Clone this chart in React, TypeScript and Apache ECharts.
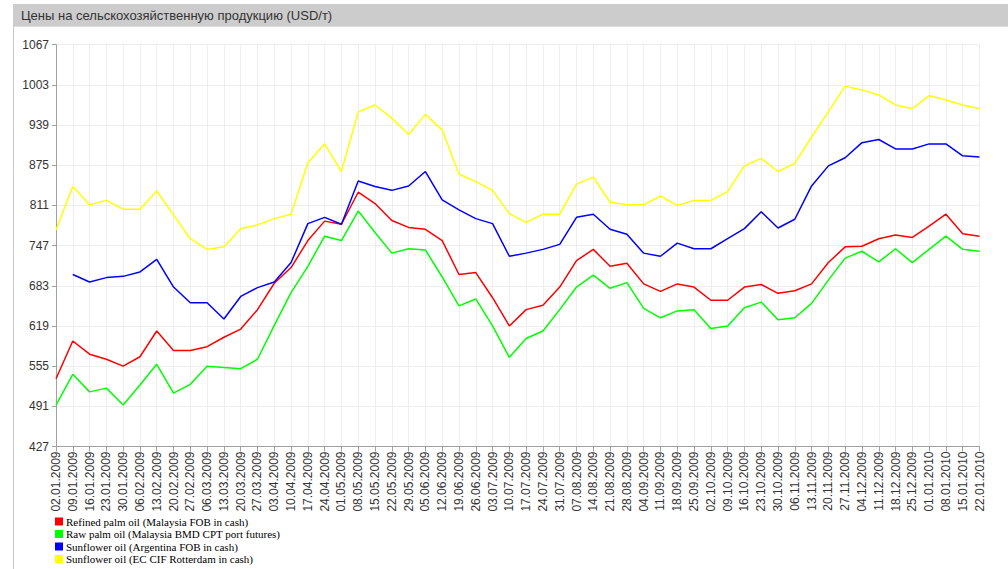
import React, { useEffect, useRef } from "react";
import * as echarts from "echarts";

const dates = [
  "02.01.2009", "09.01.2009", "16.01.2009", "23.01.2009", "30.01.2009", "06.02.2009", "13.02.2009", "20.02.2009",
  "27.02.2009", "06.03.2009", "13.03.2009", "20.03.2009", "27.03.2009", "03.04.2009", "10.04.2009", "17.04.2009",
  "24.04.2009", "01.05.2009", "08.05.2009", "15.05.2009", "22.05.2009", "29.05.2009", "05.06.2009", "12.06.2009",
  "19.06.2009", "26.06.2009", "03.07.2009", "10.07.2009", "17.07.2009", "24.07.2009", "31.07.2009", "07.08.2009",
  "14.08.2009", "21.08.2009", "28.08.2009", "04.09.2009", "11.09.2009", "18.09.2009", "25.09.2009", "02.10.2009",
  "09.10.2009", "16.10.2009", "23.10.2009", "30.10.2009", "06.11.2009", "13.11.2009", "20.11.2009", "27.11.2009",
  "04.12.2009", "11.12.2009", "18.12.2009", "25.12.2009", "01.01.2010", "08.01.2010", "15.01.2010", "22.01.2010",
];

const refinedPalm = [
  535, 595, 574, 566, 555, 570, 611, 580, 580, 586, 601, 614, 645, 687, 712, 755,
  786, 781, 832, 814, 787, 776, 773, 755, 701, 704, 664, 619, 645, 652, 681, 723,
  741, 714, 719, 686, 674, 686, 681, 660, 660, 681, 685, 671, 675, 686, 720, 745,
  746, 758, 764, 760, 778, 797, 766, 762,
];

const rawPalm = [
  493, 542, 514, 520, 493, 525, 558, 512, 526, 555, 553, 551, 566, 620, 672, 714,
  762, 755, 802, 768, 735, 742, 740, 697, 651, 662, 619, 569, 599, 611, 645, 681,
  700, 679, 688, 647, 632, 643, 645, 615, 619, 648, 657, 629, 632, 655, 692, 727,
  738, 721, 742, 720, 741, 762, 741, 738,
];

const sunflowerArg = [
  null, 701, 689, 696, 698, 705, 725, 681, 656, 656, 630, 666, 680, 689, 720, 782,
  792, 781, 850, 841, 835, 842, 865, 820, 804, 790, 782, 730, 735, 741, 749, 792,
  797, 773, 765, 735, 730, 751, 742, 742, 758, 774, 801, 775, 789, 842, 874, 887,
  911, 916, 901, 901, 909, 909, 890, 888,
];

const sunflowerEC = [
  772, 841, 812, 819, 805, 805, 834, 796, 758, 741, 745, 774, 780, 790, 797, 879,
  909, 865, 960, 971, 950, 924, 956, 931, 861, 849, 835, 798, 784, 797, 797, 845,
  856, 816, 812, 812, 826, 811, 819, 819, 833, 874, 886, 865, 878, 920, 960, 1001,
  995, 987, 971, 965, 986, 979, 971, 965,
];

const yTicks = [427, 491, 555, 619, 683, 747, 811, 875, 939, 1003, 1067];

const seriesNames = [
  "Refined palm oil (Malaysia FOB in cash)",
  "Raw palm oil (Malaysia BMD CPT port futures)",
  "Sunflower oil (Argentina FOB in cash)",
  "Sunflower oil (EC CIF Rotterdam in cash)",
];
const seriesColors = ["#ff0000", "#00ff00", "#0000ff", "#ffff00"];
const seriesData = [refinedPalm, rawPalm, sunflowerArg, sunflowerEC];

const titleText = "Цены на сельскохозяйственную продукцию (USD/т)";

export default function App() {
  const ref = useRef<HTMLDivElement>(null);
  useEffect(() => {
    if (!ref.current) return;
    const chart = echarts.init(ref.current, null, { renderer: "svg" });
    chart.setOption({
      animation: false,
      backgroundColor: "#ffffff",
      graphic: [
        {
          type: "rect",
          shape: { x: 13, y: 4, width: 995, height: 22 },
          style: { fill: "#cccccc" },
          silent: true,
        },
        {
          type: "line",
          shape: { x1: 13, y1: 26.5, x2: 1008, y2: 26.5 },
          style: { stroke: "#dddddd", lineWidth: 1 },
          silent: true,
        },
        {
          type: "line",
          shape: { x1: 13.5, y1: 26, x2: 13.5, y2: 569 },
          style: { stroke: "#c8c8c8", lineWidth: 1 },
          silent: true,
        },
        {
          type: "text",
          x: 21,
          y: 15.5,
          style: {
            text: titleText,
            fill: "#333333",
            font: "13px 'Liberation Sans', Arial, sans-serif",
            verticalAlign: "middle",
            align: "left",
          },
          silent: true,
        },
      ],
      grid: { left: 56, right: 28.5, top: 44.7, bottom: 122.5, containLabel: false },
      legend: {
        orient: "vertical",
        left: 55,
        top: 516,
        itemWidth: 8,
        itemHeight: 8,
        itemGap: 1.5,
        icon: "rect",
        padding: 0,
        textStyle: {
          fontFamily: "'Liberation Serif', 'Times New Roman', serif",
          fontSize: 11,
          color: "#000000",
          padding: [0, 0, 0, -2],
        },
        data: seriesNames,
      },
      xAxis: {
        type: "category",
        boundaryGap: false,
        data: dates,
        axisLine: { lineStyle: { color: "#a0a0a0", width: 1 } },
        axisTick: { show: true, length: 5, alignWithLabel: true, interval: 0, lineStyle: { color: "#a0a0a0" } },
        axisLabel: {
          interval: 0,
          rotate: 90,
          margin: 5,
          fontSize: 12,
          fontFamily: "'Liberation Sans', Arial, sans-serif",
          color: "#333333",
        },
        splitLine: { show: true, interval: 0, lineStyle: { color: "#eeeeee", width: 1 } },
      },
      yAxis: {
        type: "value",
        min: 427,
        max: 1067,
        axisLine: { show: true, lineStyle: { color: "#a0a0a0", width: 1 } },
        axisTick: { show: true, length: 4, customValues: yTicks, lineStyle: { color: "#a0a0a0" } },
        axisLabel: {
          customValues: yTicks,
          formatter: (v: number) => String(Math.round(v)),
          margin: 7,
          fontSize: 12,
          fontFamily: "'Liberation Sans', Arial, sans-serif",
          color: "#333333",
        },
        splitLine: { show: true, lineStyle: { color: "#eeeeee", width: 1 } },
      },
      series: seriesNames.map((name, i) => ({
        name,
        type: "line",
        data: seriesData[i],
        showSymbol: false,
        symbol: "none",
        connectNulls: false,
        lineStyle: { color: seriesColors[i], width: 1.5 },
        itemStyle: { color: seriesColors[i] },
      })),
    });
    return () => chart.dispose();
  }, []);
  return (
    <div
      ref={ref}
      style={{ position: "fixed", left: 0, top: 0, width: "1008px", height: "569px" }}
    />
  );
}
